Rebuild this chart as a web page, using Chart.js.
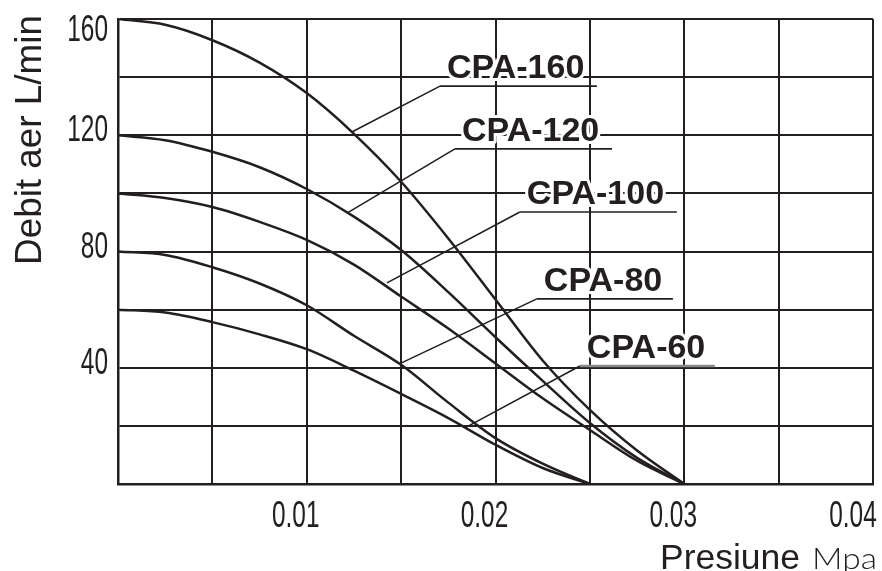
<!DOCTYPE html>
<html>
<head>
<meta charset="utf-8">
<script src="https://cdn.jsdelivr.net/npm/chart.js@4.4.0/dist/chart.umd.min.js"></script>
<style>
  html, body { margin: 0; padding: 0; background: #fff; }
</style>
</head>
<body>
<canvas id="chart" width="882" height="571"></canvas>
<script>
// pressure (MPa) sample points
const pressure = [0, 0.0025, 0.005, 0.0075, 0.01, 0.0125, 0.015, 0.0175, 0.02, 0.0225, 0.025, 0.0275, 0.03];
const pressureShort = [0, 0.0025, 0.005, 0.0075, 0.01, 0.0125, 0.015, 0.0175, 0.02, 0.0225, 0.025];

// air flow L/min per pump
const cpa160 = [160, 158, 152.7, 145, 134.5, 120.5, 104, 84.5, 63.5, 42.5, 25.5, 11.5, 0];
const cpa120 = [120, 118.3, 114.3, 109, 101.5, 92, 80.5, 66, 50.5, 35.5, 21, 9, 0];
const cpa100 = [100, 98.4, 95.3, 90.2, 84, 75.5, 64.5, 53.5, 41.5, 29.5, 18.6, 8, 0];
const cpa80 = [80, 78.8, 74.6, 69, 61.5, 51, 41, 28, 15.8, 7, 0];
const cpa60 = [60, 59, 55.7, 51.5, 46.4, 39, 31, 22.7, 13.5, 5.5, 0];

const seriesNames = ['CPA-160', 'CPA-120', 'CPA-100', 'CPA-80', 'CPA-60'];

const xTickValues = [0.01, 0.02, 0.03, 0.04];
const xTickLabels = ['0.01', '0.02', '0.03', '0.04'];
const yTickValues = [40, 80, 120, 160];
const yTickLabels = ['40', '80', '120', '160'];

const INK = '#231f20';

function toPoints(xs, ys) {
    return ys.map(function(v, i) { return {x: xs[i], y: v}; });
}

function pickLabel(value, values, labels) {
    for (let i = 0; i < values.length; i++) {
        if (Math.abs(value - values[i]) < 1e-9) return labels[i];
    }
    return '';
}

// draw text squeezed horizontally (the picture uses a condensed face)
function squeezed(ctx, text, x, y, sx) {
    ctx.save();
    ctx.translate(x, y);
    ctx.scale(sx, 1);
    ctx.fillText(text, 0, 0);
    ctx.restore();
}

// callouts: tip on the curve, start/end of the underline (data units)
const callouts = [
    {name: seriesNames[0], tip: [0.01239, 121.1], from: [0.01706, 136.9], to: 0.02537, line: INK},
    {name: seriesNames[1], tip: [0.01213, 93.2], from: [0.01785, 115.3], to: 0.02617, line: INK},
    {name: seriesNames[2], tip: [0.01425, 69.2], from: [0.02129, 93.6], to: 0.02961, line: INK},
    {name: seriesNames[3], tip: [0.01499, 41.6], from: [0.02219, 63.7], to: 0.02940, line: INK},
    {name: seriesNames[4], tip: [0.01838, 19.3], from: [0.02447, 40.6], to: 0.03162, line: '#8a8a8a'}
];

const calloutPlugin = {
    id: 'callouts',
    afterDatasetsDraw(chart) {
        const ctx = chart.ctx;
        const xs = chart.scales.x;
        const ys = chart.scales.y;
        ctx.save();
        callouts.forEach(function(c) {
            const tx = xs.getPixelForValue(c.tip[0]);
            const ty = ys.getPixelForValue(c.tip[1]);
            const fx = xs.getPixelForValue(c.from[0]);
            const fy = ys.getPixelForValue(c.from[1]);
            const ex = xs.getPixelForValue(c.to);

            // label with white halo so the grid breaks around it
            ctx.font = 'bold 34px "Liberation Sans", Arial, sans-serif';
            ctx.textBaseline = 'alphabetic';
            ctx.textAlign = 'left';
            ctx.lineJoin = 'round';
            ctx.strokeStyle = '#fff';
            ctx.lineWidth = 6;
            ctx.strokeText(c.name, fx + 7, fy - 8);
            ctx.fillStyle = INK;
            ctx.fillText(c.name, fx + 7, fy - 8);

            ctx.strokeStyle = INK;
            ctx.lineWidth = 1.6;
            ctx.beginPath();
            ctx.moveTo(tx, ty);
            ctx.lineTo(fx, fy);
            ctx.stroke();

            ctx.strokeStyle = c.line;
            ctx.lineWidth = c.line === INK ? 1.6 : 2.6;
            ctx.beginPath();
            ctx.moveTo(fx, fy);
            ctx.lineTo(ex, fy);
            ctx.stroke();
        });
        ctx.restore();
    },
    afterDraw(chart) {
        const ctx = chart.ctx;
        const xs = chart.scales.x;
        const ys = chart.scales.y;
        ctx.save();
        ctx.fillStyle = INK;

        // tick labels, taken from the scales' own ticks
        ctx.font = '37px "Liberation Sans", Arial, sans-serif';
        ctx.textBaseline = 'middle';
        ctx.textAlign = 'right';
        ys.ticks.forEach(function(t) {
            const label = pickLabel(t.value, yTickValues, yTickLabels);
            if (!label) return;
            const py = Math.max(ys.getPixelForValue(t.value) - 4, 31);
            squeezed(ctx, label, 108, py, 0.66);
        });
        ctx.textAlign = 'center';
        xs.ticks.forEach(function(t) {
            const label = pickLabel(t.value, xTickValues, xTickLabels);
            if (!label) return;
            const px = Math.min(xs.getPixelForValue(t.value) - 11, 853);
            squeezed(ctx, label, px, 517, 0.66);
        });

        ctx.textBaseline = 'alphabetic';
        ctx.textAlign = 'left';

        // y axis title, fitted to the length seen in the picture
        ctx.font = '37px "Liberation Sans", Arial, sans-serif';
        let w = ctx.measureText('Debit aer L/min').width;
        ctx.save();
        ctx.translate(41, 265);
        ctx.rotate(-Math.PI / 2);
        ctx.scale(250 / w, 1);
        ctx.fillText('Debit aer L/min', 0, 0);
        ctx.restore();

        ctx.font = '35px "Liberation Sans", Arial, sans-serif';
        w = ctx.measureText('Presiune').width;
        squeezed(ctx, 'Presiune', 660, 569, 140 / w);

        ctx.font = '300 30px Lato, "DejaVu Sans", sans-serif';
        w = ctx.measureText('Mpa').width;
        squeezed(ctx, 'Mpa', 812, 569, 65 / w);
        ctx.restore();
    }
};

const lineStyle = {
    borderColor: INK,
    borderWidth: 2.5,
    pointRadius: 0,
    fill: false,
    cubicInterpolationMode: 'monotone'
};

const datasets = [
    Object.assign({label: seriesNames[0], data: toPoints(pressure, cpa160)}, lineStyle),
    Object.assign({label: seriesNames[1], data: toPoints(pressure, cpa120)}, lineStyle),
    Object.assign({label: seriesNames[2], data: toPoints(pressure, cpa100)}, lineStyle),
    Object.assign({label: seriesNames[3], data: toPoints(pressureShort, cpa80)}, lineStyle),
    Object.assign({label: seriesNames[4], data: toPoints(pressureShort, cpa60)}, lineStyle)
];

new Chart(document.getElementById('chart'), {
    type: 'line',
    data: {datasets: datasets},
    options: {
        responsive: false,
        animation: false,
        events: [],
        layout: {padding: {left: 0, right: 9, top: 19, bottom: 0}},
        plugins: {
            legend: {display: false},
            tooltip: {enabled: false}
        },
        scales: {
            x: {
                type: 'linear',
                min: 0,
                max: 0.04,
                ticks: {stepSize: 0.005, autoSkip: false, display: false},
                grid: {color: INK, lineWidth: 2, drawTicks: false},
                border: {color: INK, width: 2.5},
                afterFit: function(scale) {
                    scale.height = 87;
                    scale.paddingLeft = 0;
                    scale.paddingRight = 0;
                }
            },
            y: {
                min: 0,
                max: 160,
                ticks: {stepSize: 20, autoSkip: false, display: false},
                grid: {color: INK, lineWidth: 2, drawTicks: false},
                border: {color: INK, width: 2.5},
                afterFit: function(scale) {
                    scale.width = 118;
                    scale.paddingTop = 0;
                    scale.paddingBottom = 0;
                }
            }
        }
    },
    plugins: [calloutPlugin]
});
</script>
</body>
</html>
